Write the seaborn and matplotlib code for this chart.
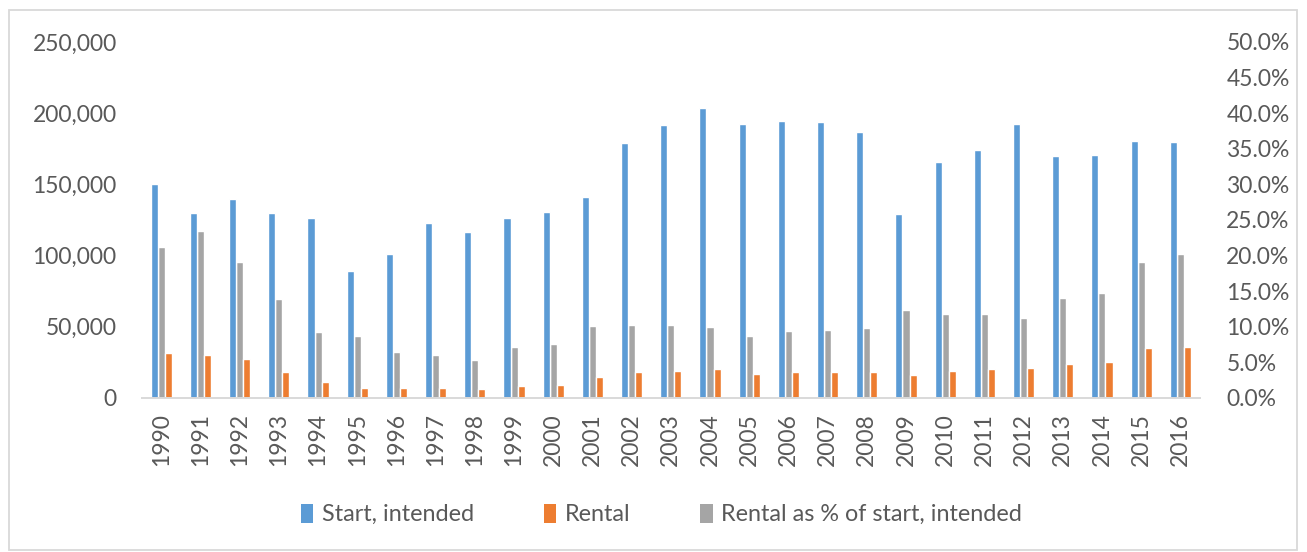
import matplotlib
matplotlib.use("Agg")
import matplotlib.pyplot as plt
from matplotlib.patches import Patch, Rectangle
from matplotlib.ticker import FuncFormatter, MultipleLocator
import seaborn as sns
import pandas as pd

# ---------------- data ----------------
years = [str(y) for y in range(1990, 2017)]
start_intended = [150000, 130000, 140000, 130000, 126600, 89400, 101100, 122700, 116600,
                  126600, 130400, 141400, 178900, 191500, 203400, 192400, 194500, 193600,
                  186800, 129400, 165900, 173900, 192600, 169700, 170900, 180500, 179600]
rental = [31800, 30000, 27200, 18000, 11000, 7200, 6800, 7200, 6500,
          8400, 9300, 14500, 18000, 19200, 20200, 16900, 18000, 18000,
          18000, 16400, 19000, 20200, 21100, 24100, 25100, 34900, 36000]
rental_pct = [21.2, 23.4, 19.1, 13.9, 9.2, 8.75, 6.4, 6.0, 5.4,
              7.2, 7.6, 10.1, 10.3, 10.3, 9.9, 8.75, 9.4, 9.55,
              9.8, 12.4, 11.75, 11.75, 11.3, 14.1, 14.7, 19.1, 20.2]

name_start = "Start, intended"
name_rental = "Rental"
name_pct = "Rental as % of start, intended"
slot_order = [name_start, name_pct, name_rental]
legend_order = [name_start, name_rental, name_pct]
colors = {name_start: "#5B9BD5", name_rental: "#ED7D31", name_pct: "#A5A5A5"}
text_color = "#595959"
line_color = "#D9D9D9"

# ---------------- style ----------------
sns.set_theme(style="white")
plt.rcParams["font.family"] = ["Lato", "DejaVu Sans"]

fig = plt.figure(figsize=(13.07, 5.52), dpi=100)
ax = fig.add_axes([0.1084, 0.279, 0.8097, 0.645])
ax2 = ax.twinx()

primary = pd.DataFrame({
    "year": years * 2,
    "value": start_intended + rental,
    "series": [name_start] * len(years) + [name_rental] * len(years),
})
secondary = pd.DataFrame({
    "year": years,
    "value": rental_pct,
    "series": [name_pct] * len(years),
})

common = dict(x="year", y="value", hue="series", hue_order=slot_order, palette=colors,
              width=0.54, dodge=True, saturation=1, errorbar=None, legend=False,
              order=years)
sns.barplot(data=primary, ax=ax, **common)
sns.barplot(data=secondary, ax=ax2, **common)

# primary bars (blue/orange) above the grey secondary bars
ax.set_zorder(ax2.get_zorder() + 1)
ax.patch.set_visible(False)

ax.set_xlim(-0.5, len(years) - 0.5)
ax.set_ylim(0, 250000)
ax2.set_ylim(0, 50)
ax.yaxis.set_major_locator(MultipleLocator(50000))
ax2.yaxis.set_major_locator(MultipleLocator(5))
ax.yaxis.set_major_formatter(FuncFormatter(lambda v, p: f"{v:,.0f}"))
ax2.yaxis.set_major_formatter(FuncFormatter(lambda v, p: f"{v:.1f}%"))

for a in (ax, ax2):
    a.set_xlabel("")
    a.set_ylabel("")
    a.grid(False)
    for s in a.spines.values():
        s.set_visible(False)

ax.spines["bottom"].set_visible(True)
ax.spines["bottom"].set_color(line_color)
ax.spines["bottom"].set_linewidth(1.4)

ax.tick_params(axis="x", length=0, pad=11, labelsize=16.5, labelcolor=text_color,
               labelrotation=90)
ax.tick_params(axis="y", length=0, pad=18, labelsize=16.5, labelcolor=text_color)
ax2.tick_params(axis="y", length=0, pad=19, labelsize=16.5, labelcolor=text_color)

handles = [Patch(facecolor=colors[n], edgecolor="none") for n in legend_order]
fig.legend(handles, legend_order, loc="center", bbox_to_anchor=(0.506, 0.068),
           ncol=3, frameon=False, fontsize=16.8, labelcolor=text_color,
           handlelength=0.55, handleheight=0.9, handletextpad=0.35,
           columnspacing=3.0)

fig.patches.append(Rectangle((0.0069, 0.003), 0.9855, 0.979, transform=fig.transFigure,
                             fill=False, edgecolor=line_color, linewidth=1.3))

fig.savefig("out.png", dpi=100)
